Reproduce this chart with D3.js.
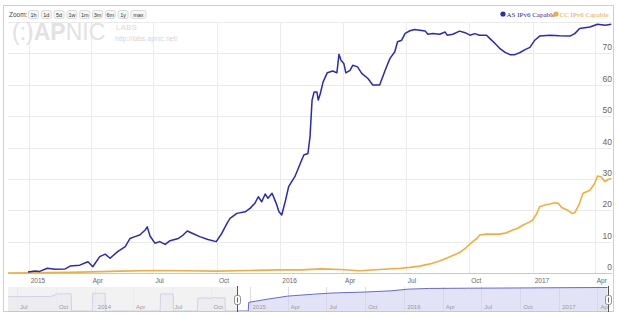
<!DOCTYPE html>
<html><head><meta charset="utf-8">
<script src="https://cdn.jsdelivr.net/npm/d3@7"></script>
<style>body{margin:0;background:#fff}svg{display:block}</style>
</head><body><svg id="c" width="618" height="318"></svg>
<script>
const asData = [
["2014-12-31",0.3],["2015-01-10",0.6],["2015-01-17",0.5],["2015-01-28",1.5],["2015-02-08",1.2],["2015-02-23",1.3],
["2015-03-02",2.2],["2015-03-16",2.5],["2015-03-28",3.6],["2015-04-04",2.0],["2015-04-14",5.2],["2015-04-22",6.0],
["2015-04-29",4.7],["2015-05-10",6.8],["2015-05-21",8.4],["2015-05-28",11.0],["2015-06-04",11.6],["2015-06-11",12.1],
["2015-06-19",13.7],["2015-06-22",14.7],["2015-06-26",11.8],["2015-07-03",9.5],["2015-07-10",10.0],["2015-07-18",9.1],
["2015-07-25",10.3],["2015-08-06",11.0],["2015-08-13",12.1],["2015-08-19",13.4],["2015-08-27",12.6],["2015-09-06",11.6],
["2015-09-18",10.7],["2015-09-30",10.0],["2015-10-08",12.6],["2015-10-16",16.0],["2015-10-20",17.4],["2015-10-30",19.0],
["2015-11-11",19.5],["2015-11-18",20.6],["2015-11-25",22.2],["2015-11-30",24.3],["2015-12-05",22.7],["2015-12-10",25.2],
["2015-12-14",23.8],["2015-12-20",25.4],["2015-12-26",22.2],["2015-12-30",19.5],["2016-01-03",18.5],["2016-01-08",22.7],
["2016-01-13",27.5],["2016-01-22",30.7],["2016-01-29",34.4],["2016-02-04",37.6],["2016-02-10",38.1],["2016-02-13",43.4],
["2016-02-16",55.1],["2016-02-19",57.7],["2016-02-23",57.7],["2016-02-25",55.1],["2016-02-28",57.2],["2016-03-03",60.9],
["2016-03-09",63.8],["2016-03-17",64.4],["2016-03-23",63.8],["2016-03-26",69.7],["2016-03-29",67.8],["2016-04-02",66.8],
["2016-04-05",63.8],["2016-04-11",64.6],["2016-04-15",66.2],["2016-04-22",65.7],["2016-04-28",63.6],["2016-05-07",62.0],
["2016-05-14",59.9],["2016-05-24",59.9],["2016-06-01",64.6],["2016-06-08",68.4],["2016-06-15",70.5],["2016-06-19",73.7],
["2016-06-25",74.2],["2016-06-30",76.4],["2016-07-07",77.2],["2016-07-14",77.6],["2016-07-21",77.4],["2016-07-29",77.1],
["2016-08-02",76.1],["2016-08-09",76.3],["2016-08-19",76.1],["2016-08-27",76.8],["2016-08-30",75.8],["2016-09-07",76.1],
["2016-09-17",77.1],["2016-09-25",76.6],["2016-10-02",75.8],["2016-10-09",76.3],["2016-10-16",75.8],["2016-10-26",75.8],
["2016-10-31",74.7],["2016-11-07",73.2],["2016-11-14",71.6],["2016-11-22",70.3],["2016-11-29",69.6],["2016-12-06",69.6],
["2016-12-13",70.2],["2016-12-21",71.2],["2016-12-28",71.9],["2017-01-04",74.2],["2017-01-11",75.5],["2017-01-26",75.8],
["2017-02-09",75.6],["2017-02-24",75.5],["2017-03-03",76.3],["2017-03-10",77.9],["2017-03-25",78.4],["2017-04-05",79.3],
["2017-04-16",79.0],["2017-04-25",79.3]
];
const ccData = [
["2014-12-02",0.0],["2015-03-01",0.2],["2015-05-15",0.6],["2015-07-01",0.8],["2015-08-15",0.7],["2015-10-01",0.6],
["2015-11-15",0.8],["2015-12-31",1.0],["2016-02-01",1.0],["2016-03-01",1.3],["2016-03-28",1.1],["2016-04-25",0.7],
["2016-06-23",1.5],["2016-07-07",1.8],["2016-07-21",2.2],["2016-08-05",2.9],["2016-08-19",3.8],["2016-09-03",5.2],
["2016-09-17",6.5],["2016-09-27",8.2],["2016-10-06",10.0],["2016-10-12",11.0],["2016-10-16",12.1],["2016-10-26",12.4],
["2016-11-04",12.4],["2016-11-14",12.4],["2016-11-24",12.8],["2016-12-03",13.7],["2016-12-10",14.2],["2016-12-18",15.3],
["2016-12-28",16.3],["2017-01-01",16.9],["2017-01-07",19.0],["2017-01-11",21.1],["2017-01-19",21.7],["2017-01-26",22.0],
["2017-02-02",22.4],["2017-02-07",22.2],["2017-02-12",20.9],["2017-02-20",20.1],["2017-02-27",19.0],["2017-03-03",19.2],
["2017-03-10",22.2],["2017-03-15",25.4],["2017-03-25",26.4],["2017-04-01",28.6],["2017-04-05",30.9],["2017-04-10",30.7],
["2017-04-16",29.1],["2017-04-20",29.8],["2017-04-25",30.1]
];
const navData = [
["2013-06-10",60],["2013-08-01",60],["2013-09-20",61],["2013-10-04",71],["2013-11-06",72],["2013-11-07",0],
["2013-12-26",0],["2013-12-27",74],["2014-01-25",74],["2014-01-26",0],["2014-06-04",0],["2014-06-05",71],
["2014-07-05",71],["2014-07-06",0],["2014-08-31",0],["2014-09-01",52],["2014-09-15",55],["2014-09-28",53],
["2014-10-10",56],["2014-10-20",54],["2014-11-04",55],["2014-11-05",0],["2014-12-29",0],["2014-12-30",36],
["2015-02-15",50],["2015-04-01",62],["2015-06-01",70],["2015-07-15",75],["2015-10-01",79],["2015-12-01",84],
["2016-01-10",91],["2016-03-01",94],["2016-06-01",95],["2016-10-01",96],["2017-01-01",97],["2017-04-25",98]
];
const yTicks = [0,10,20,30,40,50,60,70];
const zoomButtons = ["1h","1d","5d","1w","1m","3m","6m","1y","max"];
const legendLabels = ["AS IPv6 Capable","CC IPv6 Capable"];
const colors = ["#2a2ab8","#f2ae3d"];

const parse = d3.utcParse("%Y-%m-%d");
const svg = d3.select("#c");
const font = "'Liberation Sans', Arial, sans-serif";

// frame
svg.append("rect").attr("x",3.5).attr("y",5.5).attr("width",610).attr("height",306)
  .attr("fill","#fff").attr("stroke","#cfcfcf");

const x = d3.scaleUtc().domain([parse("2014-12-02"), parse("2017-04-26")]).range([8, 612]);
const y = d3.scaleLinear().domain([0,80]).range([273, 22]);

// gridlines
const xTicks = x.ticks(d3.utcMonth.every(3));
svg.append("g").selectAll("line").data(xTicks).join("line")
  .attr("x1",d=>Math.round(x(d))+0.5).attr("x2",d=>Math.round(x(d))+0.5)
  .attr("y1",22).attr("y2",273).attr("stroke","#ececec");
svg.append("g").selectAll("line").data(d3.range(0,81,10)).join("line")
  .attr("x1",8).attr("x2",612).attr("y1",d=>Math.round(y(d))+0.5).attr("y2",d=>Math.round(y(d))+0.5)
  .attr("stroke","#ebebeb");

// watermark logo
const logo = svg.append("text").attr("x",12).attr("y",40).attr("font-family",font).attr("font-size",23).attr("fill","#e2e2e2");
logo.append("tspan").attr("font-weight",400).text("(:)");
logo.append("tspan").attr("font-weight",700).text("AP");
logo.append("tspan").attr("font-weight",300).text("NIC");
svg.append("text").attr("x",116).attr("y",30).attr("font-family",font).attr("font-size",7.5).attr("fill","#d6d6d6").attr("letter-spacing",0.5).text("LABS");
svg.append("text").attr("x",115).attr("y",41).attr("font-family",font).attr("font-size",7).attr("fill","#d6d6d6").text("http://labs.apnic.net/");

// x axis line
svg.append("line").attr("x1",8).attr("x2",612).attr("y1",273.5).attr("y2",273.5).attr("stroke","#c8c8c8");

// x axis labels
const fmtMain = d => d.getUTCMonth()===0 ? d3.utcFormat("%Y")(d) : d3.utcFormat("%b")(d);
svg.append("g").selectAll("text").data(xTicks).join("text")
  .attr("x",d=>x(d)+2).attr("y",283).attr("font-family",font).attr("font-size",6.5).attr("fill","#666")
  .text(fmtMain);

// y labels
svg.append("g").selectAll("text").data(yTicks).join("text")
  .attr("x",612).attr("y",d=>y(d)-3).attr("text-anchor","end").attr("font-family",font)
  .attr("font-size",8.5).attr("fill","#666").text(d=>d);

// series
const line = d3.line().x(d=>x(parse(d[0]))).y(d=>y(d[1]));
svg.append("path").datum(ccData).attr("d",line).attr("fill","none").attr("stroke",colors[1]).attr("stroke-width",1.6).attr("stroke-linejoin","round");
svg.append("path").datum(asData).attr("d",line).attr("fill","none").attr("stroke",colors[0]).attr("stroke-width",1.5).attr("stroke-linejoin","round");

// range selector
svg.append("text").attr("x",9).attr("y",17).attr("font-family",font).attr("font-size",6.5).attr("fill","#444").text("Zoom:");
let bx = 28;
const bw = zoomButtons.map(b => b==="max" ? 15 : 10);
const btn = svg.append("g");
zoomButtons.forEach((b,i)=>{
  btn.append("rect").attr("x",bx+0.5).attr("y",10.5).attr("width",bw[i]).attr("height",8).attr("rx",2)
    .attr("fill","#f7f7f7").attr("stroke","#cccccc").attr("stroke-width",0.7);
  btn.append("text").attr("x",bx+bw[i]/2+0.5).attr("y",16.7).attr("text-anchor","middle").attr("font-family",font)
    .attr("font-size",5.5).attr("fill","#333").text(b);
  bx += bw[i] + 2.8;
});

// legend
const lg = [[503,556]];
legendLabels.forEach((l,i)=>{
  const lx = lg[0][i];
  svg.append("circle").attr("cx",lx).attr("cy",14).attr("r",2.6).attr("fill",colors[i]);
  svg.append("text").attr("x",lx+3.5).attr("y",16.5).attr("font-family","'Liberation Serif', serif").attr("font-size",7)
    .attr("fill", i===0 ? "#2a2aa8" : "#eaa73a").text(l);
});

// navigator
const nx = d3.scaleUtc().domain([parse("2013-06-10"), parse("2017-04-26")]).range([8, 608]);
const ny = d3.scaleLinear().domain([0,100]).range([311, 287]);
const navTicks = nx.ticks(d3.utcMonth.every(3)).filter(d=>nx(d)>10);
const nav = svg.append("g");
nav.append("path").datum(navData)
  .attr("d", d3.area().x(d=>nx(parse(d[0]))).y0(311).y1(d=>ny(d[1])))
  .attr("fill","#e3e3f7");
nav.selectAll("line.g").data(navTicks).join("line")
  .attr("x1",d=>Math.round(nx(d))+0.5).attr("x2",d=>Math.round(nx(d))+0.5).attr("y1",287).attr("y2",311)
  .attr("stroke","#d4d4e4").attr("stroke-width",0.8);
nav.append("path").datum(navData)
  .attr("d", d3.line().x(d=>nx(parse(d[0]))).y(d=>ny(d[1])))
  .attr("fill","none").attr("stroke","#6a6ac8").attr("stroke-width",1);
const h1 = nx(x.domain()[0]), h2 = nx(x.domain()[1]);
nav.append("rect").attr("x",8).attr("y",287).attr("width",h1-8).attr("height",24.5).attr("fill","rgba(238,238,240,0.78)");
nav.selectAll("text").data(navTicks).join("text")
  .attr("x",d=>nx(d)+3).attr("y",309).attr("font-family",font).attr("font-size",6).attr("fill","#9a9a9a")
  .text(fmtMain);
nav.append("line").attr("x1",8).attr("x2",612).attr("y1",311.5).attr("y2",311.5).attr("stroke","#c8c8c8");
[h1,h2].forEach(h=>{
  const hx = Math.round(h)+0.5;
  nav.append("line").attr("x1",hx).attr("x2",hx).attr("y1",286).attr("y2",312).attr("stroke","#555").attr("stroke-width",1);
  nav.append("rect").attr("x",hx-3).attr("y",295.5).attr("width",6).attr("height",9).attr("rx",2)
    .attr("fill","#fafafa").attr("stroke","#777").attr("stroke-width",0.8);
  nav.append("line").attr("x1",hx).attr("x2",hx).attr("y1",297.5).attr("y2",302.5).attr("stroke","#444").attr("stroke-width",0.8);
});
</script></body></html>
